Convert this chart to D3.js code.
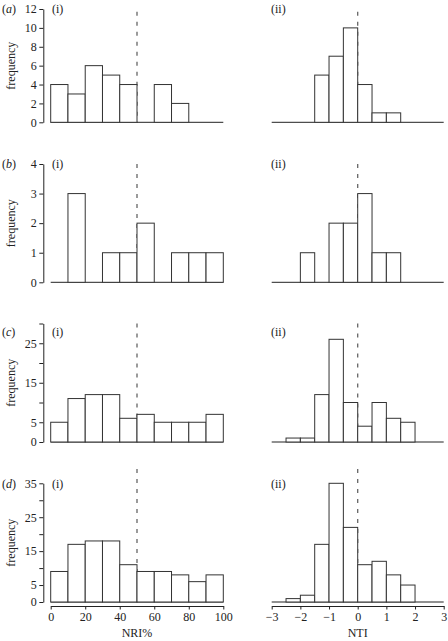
<!DOCTYPE html>
<html><head><meta charset="utf-8">
<script src="https://cdn.jsdelivr.net/npm/d3@7"></script>
<style>
html,body{margin:0;padding:0;background:#fff;}
svg{display:block;font-family:"Liberation Serif","DejaVu Serif",serif;}
</style></head>
<body>
<svg id="chart" width="448" height="641"></svg>
<script>
// ---- data ----
const rowLetters = ["a", "b", "c", "d"];
const nriBinStarts = [0, 10, 20, 30, 40, 50, 60, 70, 80, 90];
const nriBinWidth = 10;
const ntiBinStarts = [-3, -2.5, -2, -1.5, -1, -0.5, 0, 0.5, 1, 1.5, 2, 2.5];
const ntiBinWidth = 0.5;

const nriCountsA = [4, 3, 6, 5, 4, 0, 4, 2, 0, 0];
const ntiCountsA = [0, 0, 0, 5, 7, 10, 4, 1, 1, 0, 0, 0];
const nriCountsB = [0, 3, 0, 1, 1, 2, 0, 1, 1, 1];
const ntiCountsB = [0, 0, 1, 0, 2, 2, 3, 1, 1, 0, 0, 0];
const nriCountsC = [5, 11, 12, 12, 6, 7, 5, 5, 5, 7];
const ntiCountsC = [0, 1, 1, 12, 26, 10, 4, 10, 6, 5, 0, 0];
const nriCountsD = [9, 17, 18, 18, 11, 9, 9, 8, 6, 8];
const ntiCountsD = [0, 1, 2, 17, 35, 22, 11, 12, 8, 5, 0, 0];

const yMaxes = [12, 4, 30, 35];
const yTicksA = [0, 2, 4, 6, 8, 10, 12];
const yTicksB = [0, 1, 2, 3, 4];
const yTicksC = [0, 5, 10, 15, 20, 25, 30];
const yTicksD = [0, 5, 10, 15, 20, 25, 30, 35];
const yLabelsA = [0, 2, 4, 6, 8, 10, 12];
const yLabelsB = [0, 1, 2, 3, 4];
const yLabelsC = [0, 5, 15, 25];
const yLabelsD = [0, 5, 15, 25, 35];
const dashTops = [11.7, 4, 30, 39.2];

const nriDomain = [0, 100];
const ntiDomain = [-3, 3];
const nriTicks = [0, 20, 40, 60, 80, 100];
const ntiTicks = [-3, -2, -1, 0, 1, 2, 3];
const nriRef = 50;
const ntiRef = 0;
const xTitleLeft = "NRI%";
const xTitleRight = "NTI";
const yTitle = "frequency";

// ---- layout ----
const svg = d3.select("#chart");
const INK = "#222";
const rows = [
  {nri: nriCountsA, nti: ntiCountsA, ticks: yTicksA, labels: yLabelsA, bottom: 122.3, top: 9, labelY: 8.5},
  {nri: nriCountsB, nti: ntiCountsB, ticks: yTicksB, labels: yLabelsB, bottom: 282.3, top: 164, labelY: 164},
  {nri: nriCountsC, nti: ntiCountsC, ticks: yTicksC, labels: yLabelsC, bottom: 442, top: 323.5, labelY: 331.5},
  {nri: nriCountsD, nti: ntiCountsD, ticks: yTicksD, labels: yLabelsD, bottom: 602, top: 483.3, labelY: 483.3}
];

const xL = d3.scaleLinear().domain(nriDomain).range([50.7, 223.3]);
const xR = d3.scaleLinear().domain(ntiDomain).range([271.7, 443.7]);
const axisX = 43.3;

rows.forEach((r, i) => {
  const y = d3.scaleLinear().domain([0, yMaxes[i]]).range([r.bottom, r.top]);
  const g = svg.append("g");

  // y axis
  const ya = g.append("g").attr("transform", `translate(${axisX},0)`)
    .call(d3.axisLeft(y).tickValues(r.ticks).tickSize(4).tickSizeOuter(0)
      .tickFormat(d => r.labels.includes(d) ? d : ""));
  ya.select(".domain").attr("stroke", INK);
  ya.selectAll(".tick line").attr("stroke", INK);
  ya.selectAll(".tick text").attr("fill", INK).attr("font-size", 12)
    .attr("font-family", '"Liberation Serif", serif').attr("x", -6.5);

  // y title
  g.append("text").attr("transform", `translate(10.5,${(r.top + r.bottom) / 2}) rotate(-90)`)
    .attr("text-anchor", "middle").attr("dy", "0.35em")
    .attr("font-size", 12).attr("fill", INK).text(yTitle);

  // row letter
  const lt = g.append("text").attr("x", 2).attr("y", r.labelY).attr("dy", "0.35em")
    .attr("font-size", 12).attr("fill", INK);
  lt.append("tspan").text("(");
  lt.append("tspan").attr("font-style", "italic").text(rowLetters[i]);
  lt.append("tspan").text(")");

  // panel labels
  g.append("text").attr("x", 52).attr("y", r.labelY).attr("dy", "0.35em")
    .attr("font-size", 12).attr("fill", INK).text("(i)");
  g.append("text").attr("x", 271).attr("y", r.labelY).attr("dy", "0.35em")
    .attr("font-size", 12).attr("fill", INK).text("(ii)");

  // dashed reference lines
  [[xL, nriRef], [xR, ntiRef]].forEach(([x, v]) => {
    g.append("line").attr("x1", x(v)).attr("x2", x(v))
      .attr("y1", y(dashTops[i])).attr("y2", y(0))
      .attr("stroke", "#666").attr("stroke-width", 1.3)
      .attr("stroke-dasharray", "4,6");
  });

  // baselines
  g.append("line").attr("x1", xL(nriDomain[0])).attr("x2", xL(nriDomain[1]))
    .attr("y1", y(0)).attr("y2", y(0)).attr("stroke", INK);
  g.append("line").attr("x1", xR(ntiDomain[0])).attr("x2", xR(ntiDomain[1]))
    .attr("y1", y(0)).attr("y2", y(0)).attr("stroke", INK);

  // bars
  const drawBars = (starts, counts, w, x) => {
    g.append("g").selectAll("rect")
      .data(starts.map((s, k) => ({s, c: counts[k]})).filter(d => d.c > 0))
      .join("rect")
      .attr("x", d => x(d.s)).attr("width", d => x(d.s + w) - x(d.s))
      .attr("y", d => y(d.c)).attr("height", d => y(0) - y(d.c))
      .attr("fill", "#fff").attr("stroke", "#333").attr("stroke-width", 1);
  };
  drawBars(nriBinStarts, r.nri, nriBinWidth, xL);
  drawBars(ntiBinStarts, r.nti, ntiBinWidth, xR);

  // bottom row x axes
  if (i === rows.length - 1) {
    const axY = r.bottom + 4;
    [[xL, nriTicks, xTitleLeft], [xR, ntiTicks, xTitleRight]].forEach(([x, tv, title]) => {
      const xa = g.append("g").attr("transform", `translate(0,${axY})`)
        .call(d3.axisBottom(x).tickValues(tv).tickSize(3.5).tickSizeOuter(0)
          .tickFormat(d => d < 0 ? "\u2212" + Math.abs(d) : d));
      xa.select(".domain").attr("stroke", INK);
      xa.selectAll(".tick line").attr("stroke", INK);
      xa.selectAll(".tick text").attr("fill", INK).attr("font-size", 12)
        .attr("font-family", '"Liberation Serif", serif').attr("y", 6);
      g.append("text").attr("x", (x.range()[0] + x.range()[1]) / 2).attr("y", 637)
        .attr("text-anchor", "middle").attr("font-size", 12).attr("fill", INK).text(title);
    });
  }
});
</script>
</body></html>
